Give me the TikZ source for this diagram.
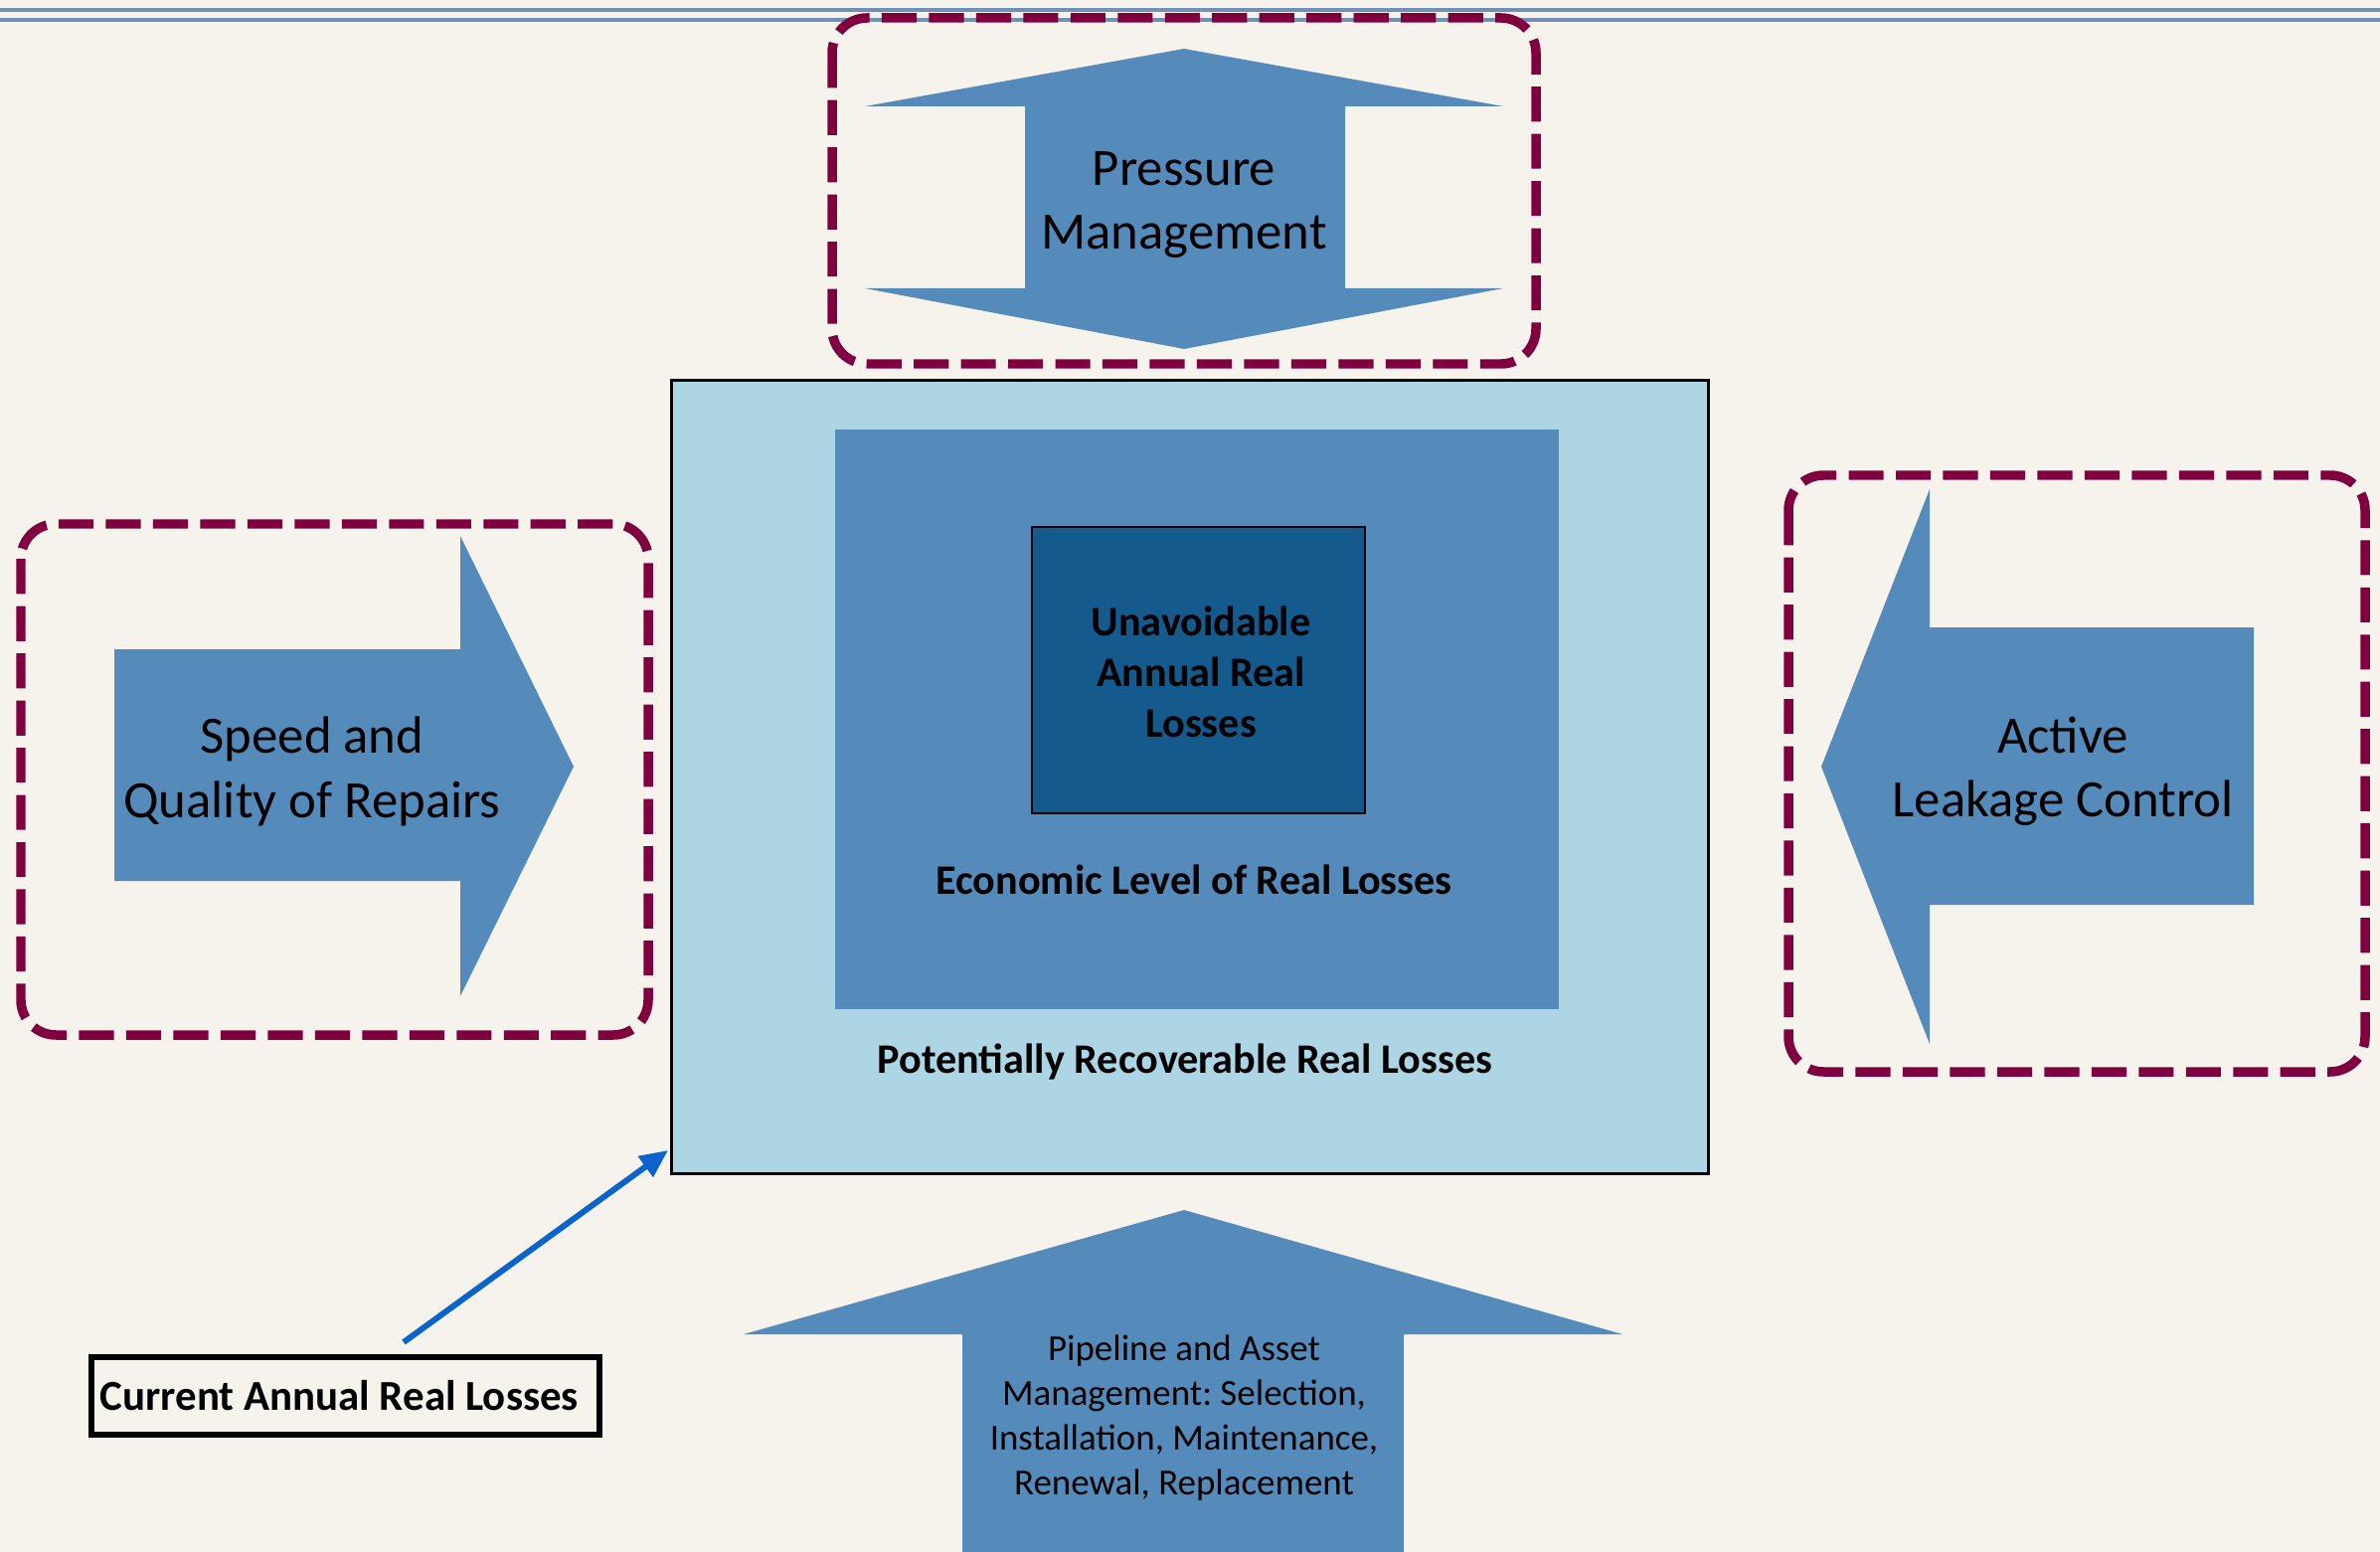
\documentclass[tikz,border=0pt]{standalone}
\usepackage{fontspec}
\setmainfont{Carlito}
\usetikzlibrary{arrows.meta}
\frenchspacing
\definecolor{bg}{HTML}{F6F3EC}
\definecolor{maroon}{HTML}{80003F}
\definecolor{steel}{HTML}{558BBA}
\definecolor{lightbl}{HTML}{ADD5E3}
\definecolor{deep}{HTML}{155A8C}
\definecolor{rulec}{HTML}{7090B8}
\definecolor{pointer}{HTML}{0A64CC}
\begin{document}
\begin{tikzpicture}[x=0.01cm,y=-0.01cm,
  dashbox/.style={draw=maroon, line width=2.7pt, dash pattern=on 10pt off 3.5pt, rounded corners=10pt},
  bigarrow/.style={fill=steel},
  biglabel/.style={align=center, font=\fontsize{15}{18.3}\selectfont, inner sep=0pt},
  boldlabel/.style={align=center, font=\bfseries\fontsize{12}{14.5}\selectfont, inner sep=0pt},
  smalllabel/.style={align=center, font=\fontsize{10.5}{12.8}\selectfont, inner sep=0pt},
  plainbox/.style={inner sep=0pt},
]
\fill[bg] (0,0) rectangle (2394,1561);
\useasboundingbox (0,0) rectangle (2394,1561);
\draw[rulec, line width=0.9pt] (0,10) -- (2394,10);
\draw[rulec, line width=0.9pt] (0,20) -- (2394,20);

% dashed frames
\draw[dashbox] (837,18) rectangle (1545,366);
\draw[dashbox] (21,527) rectangle (652,1041);
\draw[dashbox] (1799,478) rectangle (2379,1078);

% pressure double arrow
\fill[bigarrow] (1191,49) -- (1512,107) -- (1353,107) -- (1353,290) -- (1512,290) -- (1191,351)
  -- (870,290) -- (1031,290) -- (1031,107) -- (870,107) -- cycle;
\node[biglabel] (pm) at (1191,206) {Pressure\\Management};

% speed arrow
\fill[bigarrow] (115,653) -- (463,653) -- (463,539) -- (577,771) -- (463,1002) -- (463,886) -- (115,886) -- cycle;
\node[biglabel] (sq) at (314,776) {Speed and\\Quality of Repairs};

% active arrow
\fill[bigarrow] (1832,771) -- (1941,492) -- (1941,631) -- (2267,631) -- (2267,910) -- (1941,910) -- (1941,1050) -- cycle;
\node[biglabel] (alc) at (2075,776) {Active\\Leakage Control};

% boxes
\node[plainbox, draw=black, line width=0.8pt, fill=lightbl, minimum width=10.42cm, minimum height=7.97cm] (outer) at (1197,781.5) {};
\node[plainbox, fill=steel, minimum width=7.28cm, minimum height=5.83cm] (middle) at (1204,723.5) {};
\node[plainbox, draw=black, line width=0.5pt, fill=deep, minimum width=3.35cm, minimum height=2.88cm] (inner) at (1205.5,674) {};
\node[boldlabel] (ua) at (1208,676) {Unavoidable\\Annual Real\\Losses};
\node[boldlabel] (el) at (1201,885) {Economic Level of Real Losses};
\node[boldlabel] (pr) at (1192,1068) {Potentially Recoverable Real Losses};

% bottom arrow
\fill[bigarrow] (1191,1217) -- (1632,1342) -- (1412,1342) -- (1412,1561) -- (968,1561) -- (968,1342) -- (748,1342) -- cycle;
\node[smalllabel] (pa) at (1191,1426) {Pipeline and Asset\\Management: Selection,\\Installation, Maintenance,\\Renewal, Replacement};

% current annual real losses
\node[draw=black, line width=1.6pt, inner sep=0.09cm, minimum height=0.78cm,
  font=\bfseries\fontsize{12.2}{14.5}\selectfont] (cur) at (347.5,1404) {\makebox[4.93cm][l]{Current Annual Real Losses}};
\coordinate (curtop) at (406,1350);
\coordinate (target) at (672,1157);
\draw[pointer, line width=1.7pt, -{Triangle[length=8pt,width=7pt]}] (curtop) -- (target);
\end{tikzpicture}
\end{document}
